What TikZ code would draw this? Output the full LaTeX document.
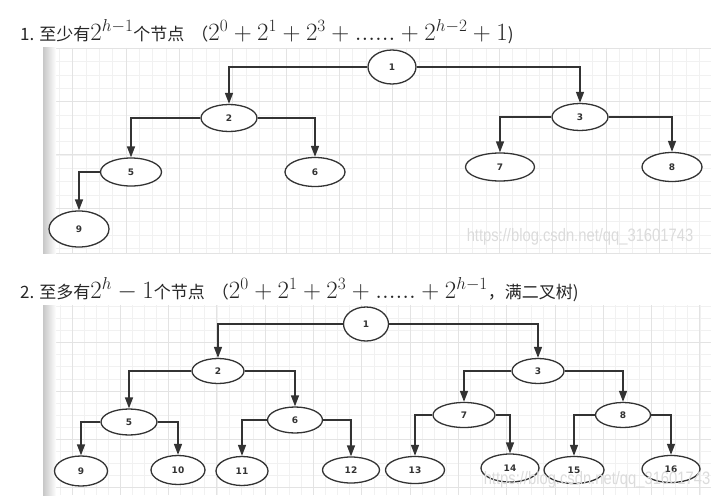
\documentclass[tikz,border=0pt]{standalone}
\usepackage{fontspec}
\newfontfamily\cjk{Noto Sans CJK SC}
\newfontfamily\lblfont{DejaVu Sans}
\newfontfamily\wmfont{Liberation Sans}
\usetikzlibrary{shapes.geometric,arrows.meta}
\definecolor{linegray}{HTML}{333333}
\definecolor{gridminor}{HTML}{F1F1F1}
\definecolor{gridmajor}{HTML}{E3E3E3}
\newcommand{\zh}[1]{{\cjk\fontsize{17}{20}\selectfont #1}}
\tikzset{
  nd/.style 2 args={ellipse, draw=linegray, line width=1.3pt, fill=white, inner sep=0pt,
    minimum width=#1, minimum height=#2, text=linegray,
    font=\lblfont\bfseries\fontsize{9}{9}\selectfont},
  edge/.style={draw=linegray, line width=1.4pt, -{Triangle[length=11pt,width=8pt]}},
  minorline/.style={draw=gridminor, line width=0.8pt},
  majorline/.style={draw=gridmajor, line width=1pt},
  title/.style={anchor=west, inner sep=0pt, text=black!85, font=\fontsize{25.5}{28}\selectfont},
  watermark/.style={text=black!14, font=\wmfont\fontsize{18}{20}\selectfont, xscale=0.82}
}
\begin{document}
\begin{tikzpicture}[x=1pt, y=-1pt]
    \useasboundingbox (0,0) rectangle (711,500);

    % Titles
    \node[title] (t1) at (20,32) {\zh{1. 至少有}$2^{h-1}$\zh{个节点\hspace{7pt}（}$2^0+2^1+2^3+......+2^{h-2}+1$\zh{)}};
    \node[title] (t2) at (20,290) {\zh{2. 至多有}$2^h-1$\zh{个节点\hspace{7pt}（}$2^0+2^1+2^3+......+2^{h-1}$\zh{，满二叉树)}};

    % Grid of the first tree
    \foreach \i in {0,...,49} \draw[minorline] ({46+\i*13.333},48) -- ({46+\i*13.333},253);
    \foreach \i in {0,...,15} \draw[minorline] (43,{48.3+\i*13.333}) -- (711,{48.3+\i*13.333});
    \foreach \i in {0,...,11} \draw[majorline] ({72.7+\i*53.333},48) -- ({72.7+\i*53.333},253);
    \foreach \i in {0,...,3} \draw[majorline] (43,{48.3+\i*53.333}) -- (711,{48.3+\i*53.333});
    \draw[majorline] (43,253) -- (711,253);
    \shade[left color=black!22, right color=white] (43,48) rectangle (56,253);

    % Grid of the second tree
    \foreach \i in {0,...,55} \draw[minorline] ({47.9+\i*12.075},305) -- ({47.9+\i*12.075},495);
    \foreach \i in {0,...,15} \draw[minorline] (43,{306.5+\i*12.075}) -- (711,{306.5+\i*12.075});
    \foreach \i in {0,...,13} \draw[majorline] ({72+\i*48.3},305) -- ({72+\i*48.3},495);
    \foreach \i in {0,...,3} \draw[majorline] (43,{342.7+\i*48.3}) -- (711,{342.7+\i*48.3});
    \shade[left color=black!22, right color=white] (43,305) rectangle (56,495);

    % Tree 1
    \node[nd={48pt}{34pt}] (a1) at (392,67) {1};
    \node[nd={56pt}{27pt}] (a2) at (229,118) {2};
    \node[nd={56pt}{27pt}] (a3) at (580,117) {3};
    \node[nd={61pt}{28pt}] (a5) at (131,172) {5};
    \node[nd={60pt}{29pt}] (a6) at (315,172) {6};
    \node[nd={69pt}{28pt}] (a7) at (500,167) {7};
    \node[nd={60pt}{29pt}] (a8) at (672,167) {8};
    \node[nd={60pt}{36pt}] (a9) at (79,229) {9};

    \draw[edge] (a1) -| (a2);
    \draw[edge] (a1) -| (a3);
    \draw[edge] (a2) -| (a5);
    \draw[edge] (a2) -| (a6);
    \draw[edge] (a3) -| (a7);
    \draw[edge] (a3) -| (a8);
    \draw[edge] (a5) -| (a9);

    % Tree 2
    \node[nd={45pt}{34pt}] (b1) at (366,324) {1};
    \node[nd={52pt}{25pt}] (b2) at (218,371) {2};
    \node[nd={52pt}{25pt}] (b3) at (538,371) {3};
    \node[nd={56pt}{26pt}] (b5) at (129,422) {5};
    \node[nd={55pt}{26pt}] (b6) at (295,420) {6};
    \node[nd={62pt}{25pt}] (b7) at (464,415) {7};
    \node[nd={55pt}{25pt}] (b8) at (623,415) {8};
    \node[nd={53pt}{30pt}] (b9) at (81,471) {9};
    \node[nd={54pt}{29pt}] (b10) at (178,470) {10};
    \node[nd={52pt}{29pt}] (b11) at (242,471) {11};
    \node[nd={57pt}{26pt}] (b12) at (351,470) {12};
    \node[nd={59pt}{27pt}] (b13) at (415,470) {13};
    \node[nd={58pt}{28pt}] (b14) at (510,468) {14};
    \node[nd={60pt}{27pt}] (b15) at (574,470) {15};
    \node[nd={58pt}{27pt}] (b16) at (671,469) {16};

    \draw[edge] (b1) -| (b2);
    \draw[edge] (b1) -| (b3);
    \draw[edge] (b2) -| (b5);
    \draw[edge] (b2) -| (b6);
    \draw[edge] (b3) -| (b7);
    \draw[edge] (b3) -| (b8);
    \draw[edge] (b5) -| (b9);
    \draw[edge] (b5) -| (b10);
    \draw[edge] (b6) -| (b11);
    \draw[edge] (b6) -| (b12);
    \draw[edge] (b7) -| (b13);
    \draw[edge] (b7) -| (b14);
    \draw[edge] (b8) -| (b15);
    \draw[edge] (b8) -| (b16);

    % Watermarks
    \node[watermark] (w1) at (580,237) {https://blog.csdn.net/qq\_31601743};
    \node[watermark] (w2) at (597,480) {https://blog.csdn.net/qq\_31601743};
\end{tikzpicture}
\end{document}
